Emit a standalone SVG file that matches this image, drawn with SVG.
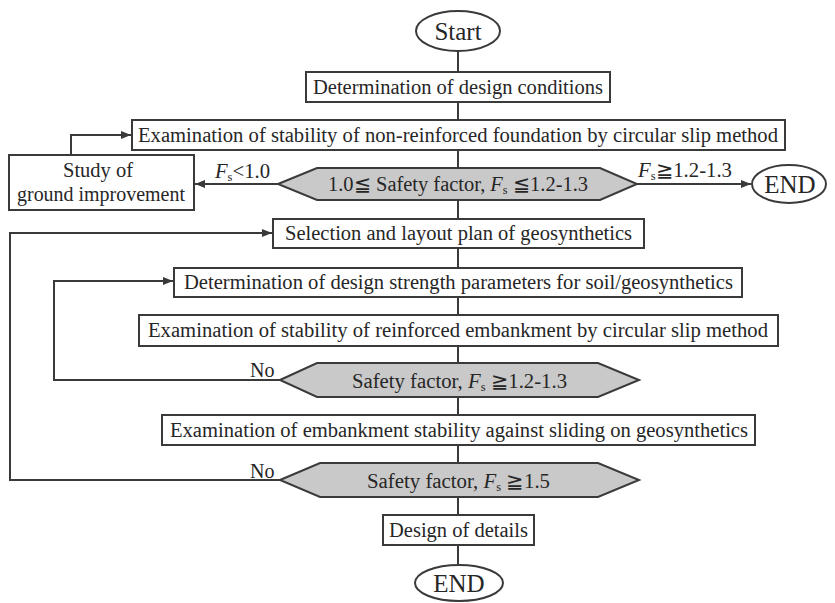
<svg xmlns="http://www.w3.org/2000/svg" width="835" height="603" viewBox="0 0 835 603">
<defs>
<style>
.box{fill:#fff;stroke:#3a3a3a;stroke-width:2}
.hex{fill:#c9c9c9;stroke:#3a3a3a;stroke-width:2}
.term{fill:#fff;stroke:#3a3a3a;stroke-width:2}
.ln{fill:none;stroke:#3a3a3a;stroke-width:2}
text{font-family:"Liberation Serif","Times New Roman",serif;fill:#262626;font-size:20px}
.big{font-size:25px}
.it{font-style:italic}
</style>
<marker id="ah" viewBox="0 0 10 10" refX="10" refY="5" markerWidth="5" markerHeight="5" orient="auto" markerUnits="strokeWidth">
<path d="M0,1 L10,5 L0,9 z" fill="#3a3a3a"/>
</marker>
</defs>
<rect width="835" height="603" fill="#fff"/>

<g id="connectors">
<path class="ln" d="M458,52 V72 M458,102 V120 M458,150 V168 M458,200 V219 M458,248 V268 M458,297 V315 M458,346 V363 M458,397 V415 M458,445 V463 M458,497 V515 M458,545 V564"/>
<path class="ln" d="M71,155 V135 H131" marker-end="url(#ah)"/>
<path class="ln" d="M278,184 H195" marker-end="url(#ah)"/>
<path class="ln" d="M637,184 H751" marker-end="url(#ah)"/>
<path class="ln" d="M280,480 H10 V233 H272" marker-end="url(#ah)"/>
<path class="ln" d="M280,380 H54 V281 H173" marker-end="url(#ah)"/>
<text x="215" y="178" textLength="55" lengthAdjust="spacingAndGlyphs"><tspan class="it">F</tspan><tspan font-size="12" dy="3">s</tspan><tspan dy="-3">&lt;1.0</tspan></text>
<text x="638" y="177" textLength="94" lengthAdjust="spacingAndGlyphs"><tspan class="it">F</tspan><tspan font-size="12" dy="3">s</tspan><tspan dy="-3">≧1.2-1.3</tspan></text>
<text x="250" y="377" font-size="19">No</text>
<text x="250" y="478" font-size="19">No</text>
</g>

<g id="start">
<ellipse class="term" cx="458" cy="31" rx="42" ry="20"/>
<text class="big" x="458" y="40" text-anchor="middle">Start</text>
</g>

<g id="design-conditions">
<rect class="box" x="306" y="72" width="304" height="30"/>
<text x="313" y="94" textLength="290" lengthAdjust="spacingAndGlyphs">Determination of design conditions</text>
</g>

<g id="exam-nonreinforced">
<rect class="box" x="132" y="120" width="653" height="30"/>
<text x="138" y="142" textLength="640" lengthAdjust="spacingAndGlyphs">Examination of stability of non-reinforced foundation by circular slip method</text>
</g>

<g id="ground-improvement">
<rect class="box" x="9" y="155" width="185" height="55"/>
<text x="98" y="177" text-anchor="middle" textLength="70" lengthAdjust="spacingAndGlyphs">Study of</text>
<text x="101" y="201" text-anchor="middle" textLength="168" lengthAdjust="spacingAndGlyphs">ground improvement</text>
</g>

<g id="decision1">
<polygon class="hex" points="278,184 317,168 600,168 637,184 600,200 317,200"/>
<text x="328" y="191" textLength="260" lengthAdjust="spacingAndGlyphs">1.0≦ Safety factor, <tspan class="it">F</tspan><tspan font-size="12" dy="3">s</tspan><tspan dy="-3"> ≦1.2-1.3</tspan></text>
</g>

<g id="end-right">
<ellipse class="term" cx="789" cy="184" rx="37" ry="19"/>
<text class="big" x="790" y="193" text-anchor="middle">END</text>
</g>

<g id="selection-layout">
<rect class="box" x="273" y="219" width="371" height="29"/>
<text x="285" y="240" textLength="347" lengthAdjust="spacingAndGlyphs">Selection and layout plan of geosynthetics</text>
</g>

<g id="strength-params">
<rect class="box" x="174" y="268" width="568" height="29"/>
<text x="184" y="289" textLength="549" lengthAdjust="spacingAndGlyphs">Determination of design strength parameters for soil/geosynthetics</text>
</g>

<g id="exam-reinforced">
<rect class="box" x="139" y="315" width="639" height="31"/>
<text x="148" y="337" textLength="620" lengthAdjust="spacingAndGlyphs">Examination of stability of reinforced embankment by circular slip method</text>
</g>

<g id="decision2">
<polygon class="hex" points="280,380 317,363 598,363 639,380 598,397 317,397"/>
<text x="352" y="388" textLength="215" lengthAdjust="spacingAndGlyphs">Safety factor, <tspan class="it">F</tspan><tspan font-size="12" dy="3">s</tspan><tspan dy="-3"> ≧1.2-1.3</tspan></text>
</g>

<g id="exam-sliding">
<rect class="box" x="162" y="415" width="593" height="30"/>
<text x="170" y="437" textLength="578" lengthAdjust="spacingAndGlyphs">Examination of embankment stability against sliding on geosynthetics</text>
</g>

<g id="decision3">
<polygon class="hex" points="280,480 320,463 598,463 639,480 598,497 320,497"/>
<text x="367" y="488" textLength="183" lengthAdjust="spacingAndGlyphs">Safety factor, <tspan class="it">F</tspan><tspan font-size="12" dy="3">s</tspan><tspan dy="-3"> ≧1.5</tspan></text>
</g>

<g id="design-details">
<rect class="box" x="383" y="515" width="151" height="30"/>
<text x="389" y="537" textLength="139" lengthAdjust="spacingAndGlyphs">Design of details</text>
</g>

<g id="end-bottom">
<ellipse class="term" cx="459" cy="583" rx="44" ry="18"/>
<text class="big" x="459" y="592" text-anchor="middle">END</text>
</g>
</svg>
